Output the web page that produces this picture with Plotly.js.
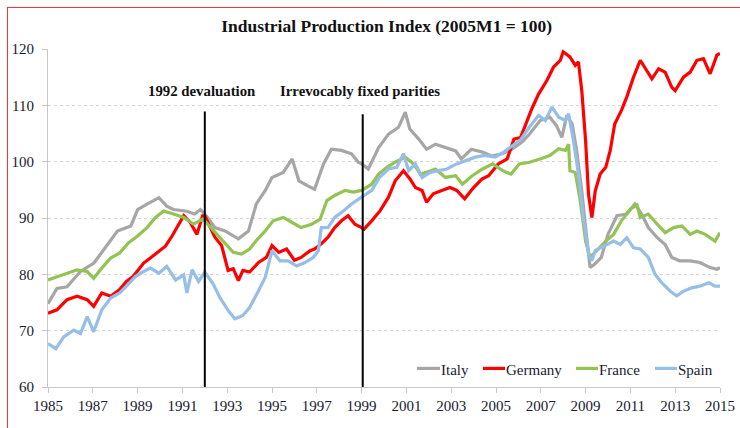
<!DOCTYPE html>
<html>
<head>
<meta charset="utf-8">
<script src="https://cdn.plot.ly/plotly-3.0.1.min.js"></script>
<style>
html,body{margin:0;padding:0;background:#fff;}
#wrap{position:relative;width:740px;height:428px;overflow:hidden;}
#chart{position:absolute;left:0;top:0;width:740px;height:428px;}
#frame{position:absolute;left:7px;top:7px;width:760px;height:440px;border-left:1px solid #f33;border-top:1px solid #f33;pointer-events:none;}
</style>
</head>
<body>
<div id="wrap"><div id="chart"></div><div id="frame"></div></div>
<script>
const chartTitle = "Industrial Production Index (2005M1 = 100)";
const seriesNames = ["Italy", "Germany", "France", "Spain"];
const seriesColors = ["#a6a6a6", "#ff0000", "#92c353", "#95bfe8"];
const xTickVals = [1985,1987,1989,1991,1993,1995,1997,1999,2001,2003,2005,2007,2009,2011,2013,2015];
const yTickVals = [60,70,80,90,100,110,120];
const eventYears = [1992, 1999.05];
const eventTops = [108.9, 108.4];
const eventLabels = ["1992 devaluation", "Irrevocably fixed parities"];
const eventLabelX = [1991.85, 1998.93];

const italyYears = [1985.0,1985.4,1985.85,1986.45,1987.05,1987.5,1988.1,1988.7,1989.0,1989.4,1989.95,1990.3,1990.6,1991.2,1991.55,1991.8,1992.0,1992.45,1992.9,1993.5,1993.95,1994.3,1994.7,1995.0,1995.5,1995.9,1996.2,1996.6,1996.9,1997.3,1997.65,1998.1,1998.55,1998.85,1999.0,1999.3,1999.76,2000.2,2000.65,2000.95,2001.15,2001.55,2001.9,2002.3,2002.7,2003.2,2003.45,2003.9,2004.4,2004.8,2005.27,2005.7,2006.16,2006.5,2006.97,2007.4,2007.7,2007.94,2008.16,2008.4,2008.6,2008.83,2009.0,2009.2,2009.4,2009.7,2010.0,2010.4,2010.84,2011.2,2011.5,2011.8,2012.2,2012.55,2012.85,2013.2,2013.67,2014.1,2014.56,2014.86,2015.0];
const italyValues = [74.8,77.5,77.8,80.5,82,84.4,87.7,88.6,91.5,92.4,93.6,92.1,91.5,91.2,90.7,91.5,90.7,88.3,87.7,86.3,87.7,92.5,94.9,97.2,98.1,100.5,96.6,95.7,95.1,99.6,102.2,102,101.4,99.9,99.6,98.7,102.5,104.9,106.1,108.8,105.8,104,102.2,103.1,102.5,101.9,100.5,102.2,101.7,101,101.4,102.2,103.5,104.9,107.3,107.9,106.4,104.3,108.2,106.7,102,94.8,88.3,81.2,81.8,83,87.1,90.4,90.7,92.5,90.7,88.3,86.5,85.3,83,82.4,82.4,82.1,81.2,80.9,81.2];

const germanyYears = [1985.0,1985.4,1985.85,1986.3,1986.75,1987.04,1987.4,1987.8,1988.2,1988.5,1988.8,1989.27,1989.57,1989.87,1990.24,1990.54,1990.76,1991.06,1991.35,1991.65,1991.9,1992.0,1992.45,1992.75,1993.04,1993.27,1993.5,1993.7,1994.0,1994.4,1994.75,1995.0,1995.3,1995.65,1996.0,1996.3,1996.7,1996.9,1997.2,1997.5,1997.8,1998.1,1998.4,1998.7,1999.0,1999.1,1999.45,1999.83,2000.2,2000.5,2000.87,2001.17,2001.4,2001.7,2001.9,2002.2,2002.58,2002.95,2003.25,2003.6,2004.0,2004.37,2004.67,2005.1,2005.5,2005.8,2006.1,2006.3,2006.6,2006.9,2007.27,2007.57,2007.87,2008.0,2008.3,2008.54,2008.68,2008.83,2009.0,2009.13,2009.28,2009.43,2009.65,2009.9,2010.1,2010.3,2010.6,2010.84,2011.14,2011.44,2011.74,2011.96,2012.26,2012.55,2012.85,2013.0,2013.37,2013.67,2013.97,2014.26,2014.56,2014.86,2015.0];
const germanyValues = [73.1,73.7,75.5,76.1,75.5,74.3,76.7,76.1,77.3,78.75,79.6,82,82.9,83.8,85,86.8,88.3,90.4,89.2,87.1,90.4,90.4,86.6,85.1,80.7,81,78.9,80.7,80.4,82.1,83,85.1,83.9,84.5,82.5,83,84.2,84.5,85.4,86.6,88.3,89.5,90.4,88.9,88.3,88,89.5,91.3,93.7,96.6,98.4,96.9,95.4,94.9,92.8,94.3,94.9,95.4,94.9,93.4,95.4,96.9,97.5,99.6,100.5,104,104.3,106.5,109.4,112,114.4,116.8,118,119.5,118.6,117.1,117.7,112.6,103.7,94.2,90.1,94.8,97.8,99,102,106.7,109.1,111.5,115,118,116.2,114.7,116.5,115.9,113.2,112.6,115,115.9,118,118.3,115.6,118.9,119.2];

const franceYears = [1985.0,1985.4,1985.85,1986.3,1986.75,1987.04,1987.4,1987.8,1988.2,1988.6,1989.0,1989.42,1989.8,1990.16,1990.6,1991.06,1991.5,1991.9,1992.0,1992.45,1992.9,1993.27,1993.64,1994.0,1994.3,1994.7,1995.05,1995.5,1995.9,1996.3,1996.77,1997.15,1997.45,1997.8,1998.26,1998.63,1999.0,1999.45,1999.76,2000.13,2000.5,2000.95,2001.32,2001.62,2001.9,2002.3,2002.74,2003.2,2003.5,2003.94,2004.4,2004.85,2005.3,2005.67,2006.04,2006.5,2007.0,2007.4,2007.8,2008.1,2008.24,2008.3,2008.54,2008.76,2009.0,2009.2,2009.5,2009.9,2010.25,2010.6,2011.0,2011.3,2011.44,2011.8,2012.2,2012.55,2012.93,2013.3,2013.67,2013.97,2014.34,2014.78,2015.0];
const franceValues = [79,79.6,80.2,80.8,80.5,79.3,81.1,82.9,83.8,85.6,86.8,88.3,90.1,91.25,90.7,90.1,88.9,89.8,89.5,87.5,85.4,83.9,83.6,84.5,86,87.7,89.5,90.1,89.2,88.3,88.9,89.8,93.1,94,94.9,94.6,94.9,96,97.8,99,99.9,100.8,99.6,97.8,98.1,98.7,97.2,97.5,96,97.5,98.7,99.6,98.4,97.8,99.6,99.9,100.5,101.1,102.3,102,103.1,98.4,98.1,93.1,85.9,83,84.2,85.9,87.1,89.5,91.6,92.3,90.1,90.7,88.9,87.4,88.3,88.6,87.1,87.7,87.1,85.9,87.4];

const spainYears = [1985.0,1985.35,1985.7,1986.15,1986.45,1986.75,1987.04,1987.4,1987.8,1988.2,1988.5,1988.9,1989.27,1989.57,1989.95,1990.3,1990.7,1991.06,1991.2,1991.43,1991.72,1992.0,1992.37,1992.67,1993.04,1993.34,1993.7,1994.0,1994.4,1994.7,1995.0,1995.35,1995.72,1996.1,1996.47,1996.84,1997.07,1997.2,1997.5,1997.8,1998.2,1998.55,1999.0,1999.45,1999.8,2000.2,2000.57,2000.87,2001.1,2001.4,2001.7,2002.07,2002.44,2002.8,2003.25,2003.7,2004.07,2004.5,2004.97,2005.34,2005.7,2006.1,2006.5,2006.9,2007.2,2007.5,2007.8,2008.1,2008.24,2008.46,2008.68,2008.9,2009.13,2009.28,2009.43,2009.65,2009.95,2010.25,2010.55,2010.84,2011.14,2011.44,2011.8,2012.1,2012.4,2012.78,2013.07,2013.37,2013.74,2014.1,2014.5,2014.78,2015.0];
const spainValues = [67.7,66.8,68.9,70.1,69.5,72.5,69.8,73.7,75.8,76.7,77.9,79.6,80.5,81.1,80.2,81.4,79,79.9,76.7,80.8,78.75,80.4,78.3,75.9,73.6,72.1,72.7,74.1,77.1,79.5,84.2,82.4,82.4,81.5,82.1,83,84.2,88.3,88.3,90.1,91.3,92.5,93.7,94.9,97.2,98.7,99,101.4,98.4,99.6,97.2,98.1,98.4,98.7,99.6,100.2,100.8,101.1,100.8,101.7,102.8,103.9,106.2,108.2,107.3,109.7,107.9,107.3,108.5,103.7,97.8,90.1,83.6,82.4,84.2,84.7,85.3,85.9,85.3,86.5,84.7,84.5,83,80,78.5,77,76.2,77,77.6,77.9,78.5,77.9,77.9];

const allYears = [italyYears, germanyYears, franceYears, spainYears];
const allValues = [italyValues, germanyValues, franceValues, spainValues];

// legend placement (paper coordinates) - layout only
const legendLineX0 = [0.549, 0.6473, 0.7857, 0.9033];
const legendLineX1 = [0.5833, 0.6801, 0.8185, 0.936];
const legendY = 0.055;

const serif = "Liberation Serif, Times New Roman, serif";
const textColor = "#1a1a30";
const traces = seriesNames.map((n, i) => ({
  type: "scatter", mode: "lines", name: n,
  x: allYears[i], y: allValues[i],
  line: {color: seriesColors[i], width: 3.2},
  showlegend: false
}));

const shapes = eventYears.map((yr, i) => ({
  type: "line", xref: "x", yref: "y",
  x0: yr, x1: yr, y0: 60, y1: eventTops[i],
  line: {color: "#000", width: 2}
}));
seriesNames.forEach((n, i) => shapes.push({
  type: "line", xref: "paper", yref: "paper",
  x0: legendLineX0[i], x1: legendLineX1[i], y0: legendY, y1: legendY,
  line: {color: seriesColors[i], width: 3.2}
}));

const annotations = eventLabels.map((t, i) => ({
  text: "<b>" + t + "</b>", xref: "x", yref: "y",
  x: eventLabelX[i], y: 112.6, showarrow: false,
  font: {family: serif, size: 14.8, color: "#111"}
}));
seriesNames.forEach((n, i) => annotations.push({
  text: n, xref: "paper", yref: "paper", x: legendLineX1[i], xanchor: "left",
  y: 0.05, yanchor: "middle", showarrow: false, borderpad: 0,
  font: {family: serif, size: 15, color: textColor}
}));

const layout = {
  width: 740, height: 428,
  margin: {l: 48, r: 20, t: 49, b: 41},
  paper_bgcolor: "#fff", plot_bgcolor: "#fff",
  title: {text: "<b>" + chartTitle + "</b>", x: 0.504, xref: "paper", xanchor: "center", y: 0.94, yanchor: "middle",
          font: {family: serif, size: 17.5, color: "#111"}},
  xaxis: {range: [1985, 2015], tickvals: xTickVals, ticktext: xTickVals.map(String),
          showgrid: false, zeroline: false, showline: true, linecolor: "#c8c8c8", linewidth: 1,
          ticks: "outside", ticklen: 5, tickcolor: "#c8c8c8",
          tickfont: {family: serif, size: 15, color: textColor}},
  yaxis: {range: [60, 120], tickvals: yTickVals, showgrid: true, gridcolor: "#d6d6d6", griddash: "dot",
          zeroline: false, showline: true, linecolor: "#c8c8c8", linewidth: 1,
          ticks: "outside", ticklen: 5, tickcolor: "#c8c8c8", ticklabelstandoff: 5,
          tickfont: {family: serif, size: 15, color: textColor}},
  showlegend: false,
  shapes: shapes,
  annotations: annotations
};

Plotly.newPlot("chart", traces, layout, {displayModeBar: false, staticPlot: true});
</script>
</body>
</html>
